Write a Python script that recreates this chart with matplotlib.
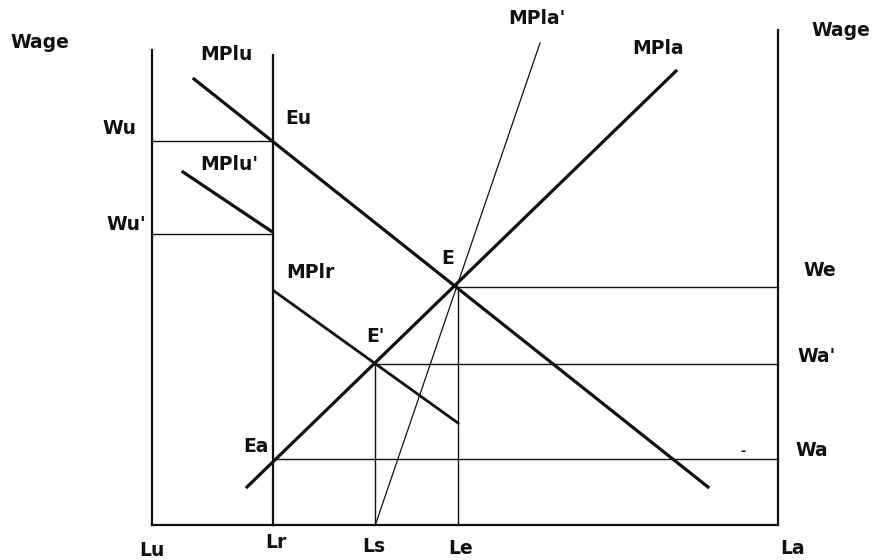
import matplotlib
matplotlib.use("Agg")
import matplotlib.pyplot as plt

# labour quantities on the horizontal axis (pixel-like diagram units)
Lu, Lr, Ls, Le, La = 152, 273, 375, 458, 778
# wage levels (diagram units, downward)
Wu, Wu2, We, Wa2, Wa = 141, 234, 287, 364, 459
base = 525
top_left, top_r, top_right = 50, 55, 30

# curves: end points
mplu_x, mplu_y = [194, 708], [79, 487]
mplu2_x, mplu2_y = [183, 271], [172, 231]
mplr_x, mplr_y = [274, 458], [291, 423]
mpla_x, mpla_y = [247, 676], [487, 71]
mpla2_x, mpla2_y = [376, 540], [523, 43]

labels = [
    ("Wage", 40, 43), ("Wage", 841, 31),
    ("MPlu", 226, 55), ("Eu", 298, 118), ("Wu", 119, 129),
    ("MPlu'", 229, 164), ("Wu'", 126, 225),
    ("MPla'", 537, 18), ("MPla", 658, 49),
    ("E", 448, 258), ("MPlr", 310, 273), ("We", 820, 270),
    ("E'", 375, 337), ("Wa'", 817, 357),
    ("Ea", 256, 446), ("Wa", 812, 451),
    ("Lu", 152, 550), ("Lr", 276, 543), ("Ls", 374, 546),
    ("Le", 461, 549), ("La", 793, 548),
]

fig = plt.figure(figsize=(8.72, 5.60), dpi=100)
ax = fig.add_axes([0, 0, 1, 1])
ax.set_xlim(0, 872)
ax.set_ylim(560, 0)
ax.axis("off")

k = "#111111"
# frame
ax.plot([Lu, Lu], [top_left, base], color=k, lw=1.6)
ax.plot([Lr, Lr], [top_r, base], color=k, lw=1.6)
ax.plot([La, La], [top_right, base], color=k, lw=1.6)
ax.plot([Lu, La], [base, base], color=k, lw=1.6)

# wage lines
ax.plot([Lu, Lr], [Wu, Wu], color=k, lw=1.0)
ax.plot([Lu, Lr], [Wu2, Wu2], color=k, lw=1.0)
ax.plot([Le, La], [We, We], color=k, lw=1.0)
ax.plot([Ls, La], [Wa2, Wa2], color=k, lw=1.0)
ax.plot([Lr, La], [Wa, Wa], color=k, lw=1.0)
ax.plot([Le, Le], [We, base], color=k, lw=1.0)
ax.plot([Ls, Ls], [Wa2, base], color=k, lw=1.0)

# curves
ax.plot(mplu_x, mplu_y, color=k, lw=2.3)
ax.plot(mplu2_x, mplu2_y, color=k, lw=2.3)
ax.plot(mplr_x, mplr_y, color=k, lw=2.0)
ax.plot(mpla_x, mpla_y, color=k, lw=2.3)
ax.plot(mpla2_x, mpla2_y, color=k, lw=0.9)

for t, x, y in labels:
    ax.text(x, y, t, ha="center", va="center", fontsize=13.5,
            fontweight="bold", color=k, family="DejaVu Sans")

# stray mark near Wa
ax.text(743, 452, "-", ha="center", va="center", fontsize=9,
        fontweight="bold", color=k)

fig.savefig("out.png", dpi=100)
